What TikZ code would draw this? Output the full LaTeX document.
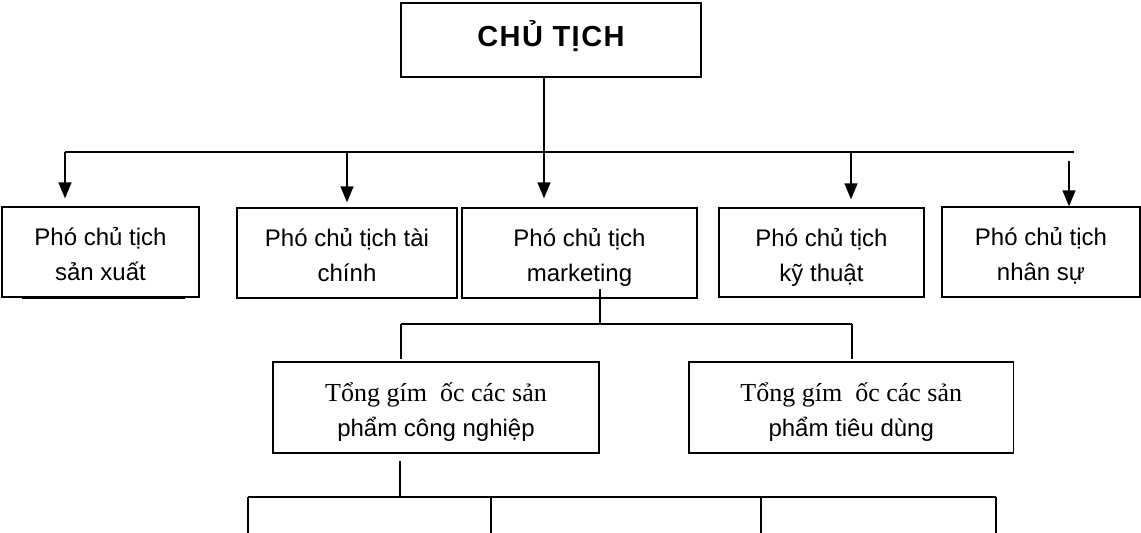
\documentclass[tikz,border=0pt]{standalone}
\usepackage{fontspec}
\setmainfont{Liberation Sans}
\newfontfamily\serifvn{Liberation Serif}
\usetikzlibrary{arrows.meta}

% struts that fix where the two text lines sit inside a box
\newcommand\vnTop{\rule{0pt}{28pt}}
\newcommand\vnBot{\rule[-5.6pt]{0pt}{5.6pt}}
\newcommand\vnTitle{\rule[-16.6pt]{0pt}{46.6pt}}

\begin{document}
\begin{tikzpicture}[x=1pt,y=-1pt,
  line width=1.4pt,
  box/.style={draw, rectangle, inner sep=0pt, align=center,
    font=\fontsize{24}{35}\selectfont},
  arr/.style={-{Triangle[width=13pt,length=16pt]}}
]
\useasboundingbox (0,0) rectangle (1141,533);

% chairman
\node[box, minimum width=300pt, minimum height=74pt,
      font=\fontsize{29}{34}\selectfont\bfseries\addfontfeature{LetterSpace=5}]
  (chair) at (551,40) {\vnTitle CHỦ TỊCH};

% vice presidents
\node[box, minimum width=197pt, minimum height=90pt] (vp1) at (100.5,252)
  {\vnTop Phó chủ tịch\\sản xuất\vnBot};
\node[box, minimum width=220pt, minimum height=90pt] (vp2) at (347,253)
  {\vnTop Phó chủ tịch tài\\chính\vnBot};
\node[box, minimum width=235pt, minimum height=90pt] (vp3) at (579.5,253)
  {\vnTop Phó chủ tịch\\marketing\vnBot};
\node[box, minimum width=205pt, minimum height=89pt] (vp4) at (821.5,252.5)
  {\vnTop Phó chủ tịch\\kỹ thuật\vnBot};
\node[box, minimum width=198pt, minimum height=90pt] (vp5) at (1041,252)
  {\vnTop Phó chủ tịch\\nhân sự\vnBot};

% general managers
\node[box, minimum width=326pt, minimum height=91pt] (gm1) at (436,407.5)
  {\vnTop{\serifvn\fontsize{26}{35}\selectfont Tổng gím\ \ ốc các sản}\\phẩm công nghiệp\vnBot};
\node[box, minimum width=324.5pt, minimum height=91pt] (gm2) at (851.25,407.5)
  {\vnTop{\serifvn\fontsize{26}{35}\selectfont Tổng gím\ \ ốc các sản}\\phẩm tiêu dùng\vnBot};

% top bus
\coordinate (busL) at (65,152);
\coordinate (busR) at (1074,152);
\coordinate (j2) at (347,152);
\coordinate (j3) at (544,152);
\coordinate (j4) at (851,152);
\coordinate (s5) at (1069,161);

\draw (busL) -- (busR);
\draw (chair.south -| j3) -- (j3);
\draw[arr, shorten >=8pt] (busL) -- (busL |- vp1.north);
\draw[arr, shorten >=5pt] (j2) -- (j2 |- vp2.north);
\draw[arr, shorten >=9pt] (j3) -- (j3 |- vp3.north);
\draw[arr, shorten >=8pt] (j4) -- (j4 |- vp4.north);
\draw[arr] (s5) -- (s5 |- vp5.north);

% underline of the first box
\coordinate (sh1) at (22,298.5);
\coordinate (sh2) at (185,298.5);
\draw (sh1) -- (sh2);

% marketing branch
\coordinate (m0) at (600,289);
\coordinate (m1) at (600,325);
\coordinate (mL) at (401,324);
\coordinate (mR) at (852,324);
\draw (m0) -- (m1);
\draw (mL) -- (mR);
\draw[shorten >=2pt] (mL) -- (mL |- gm1.north);
\draw[shorten >=2pt] (mR) -- (mR |- gm2.north);

% industrial products branch
\coordinate (k) at (400,497);
\coordinate (kL) at (248,497);
\coordinate (kR) at (996,497);
\coordinate (k2) at (491,497);
\coordinate (k3) at (761,497);
\coordinate (d1) at (248,533);
\coordinate (d2) at (491,533);
\coordinate (d3) at (761,533);
\coordinate (d4) at (996,533);
\draw[shorten <=7.5pt] (k |- gm1.south) -- (k);
\draw (kL) -- (kR);
\draw (kL) -- (d1);
\draw (k2) -- (d2);
\draw (k3) -- (d3);
\draw (kR) -- (d4);
\end{tikzpicture}
\end{document}
